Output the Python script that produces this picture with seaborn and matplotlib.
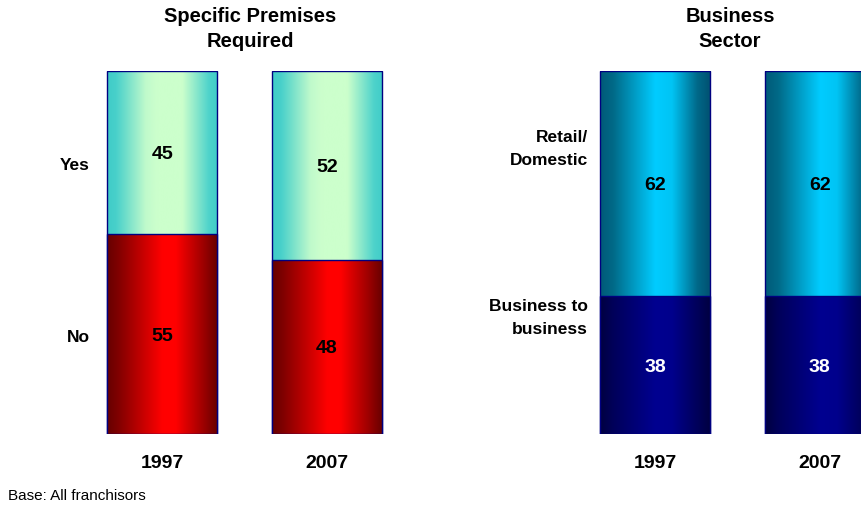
import numpy as np
import matplotlib
matplotlib.use("Agg")
import matplotlib.pyplot as plt
import pandas as pd
import seaborn as sns
from matplotlib.colors import LinearSegmentedColormap
from matplotlib.transforms import blended_transform_factory

# Survey shares (%), by year
years = ["1997", "2007"]
premises_yes = [45, 52]
premises_no = [55, 48]
sector_retail = [62, 62]
sector_b2b = [38, 38]

sns.set_theme(style="white")
plt.rcParams["font.family"] = ["Liberation Sans", "DejaVu Sans"]

NAVY = "#000080"

cm_aqua = LinearSegmentedColormap.from_list(
    "aqua", [(0, "#40CCC8"), (0.08, "#48D0CA"), (0.35, "#C0FACC"),
             (0.45, "#CCFFCC"), (0.68, "#CCFFCC"), (0.92, "#4ED3CB"),
             (1, "#40CCC8")])
cm_red = LinearSegmentedColormap.from_list(
    "red", [(0, "#660000"), (0.1, "#800000"), (0.5, "#FF0000"),
            (0.62, "#FF0000"), (0.88, "#990000"), (1, "#660000")])
cm_sky = LinearSegmentedColormap.from_list(
    "sky", [(0, "#005A78"), (0.12, "#006A88"), (0.5, "#00CCFF"),
            (0.65, "#00C4F4"), (0.88, "#006888"), (1, "#005070")])
cm_navy = LinearSegmentedColormap.from_list(
    "navy", [(0, "#000040"), (0.12, "#00005A"), (0.5, "#000090"),
             (0.65, "#00008C"), (0.88, "#00005A"), (1, "#000040")])

BAR_W = 0.669


def shade(ax, patches, cmap, z):
    """Fill each bar with a horizontal cylinder-style gradient."""
    grad = np.linspace(0, 1, 256).reshape(1, -1)
    for p in patches:
        x0, y0 = p.get_x(), p.get_y()
        w, h = p.get_width(), p.get_height()
        im = ax.imshow(grad, cmap=cmap, aspect="auto", interpolation="bicubic",
                       extent=[x0, x0 + w, y0, y0 + h], zorder=z)
        im.set_clip_path(p)
        p.set_facecolor("none")
        p.set_edgecolor(NAVY)
        p.set_linewidth(1.0)
        p.set_zorder(z + 0.5)


def stacked(ax, bottom, top, cm_bottom, cm_top, col_bottom, col_top):
    df = pd.DataFrame({"year": years,
                       "total": np.add(bottom, top),
                       "bottom": bottom})
    sns.barplot(data=df, x="year", y="total", color="white", width=BAR_W,
                ax=ax, saturation=1)
    sns.barplot(data=df, x="year", y="bottom", color="white", width=BAR_W,
                ax=ax, saturation=1)
    shade(ax, ax.patches[:2], cm_top, 1)
    shade(ax, ax.patches[2:4], cm_bottom, 2)
    for i, (b, t) in enumerate(zip(bottom, top)):
        ax.text(i, b + t / 2, f"{t}", ha="center", va="center_baseline",
                fontsize=14, fontweight="bold", color=col_top, zorder=5)
        ax.text(i, b / 2, f"{b}", ha="center", va="center_baseline",
                fontsize=14, fontweight="bold", color=col_bottom, zorder=5)
    tr = blended_transform_factory(ax.transData, ax.transAxes)
    for i, y in enumerate(years):
        ax.text(i, -0.082, y, transform=tr, ha="center", va="center",
                fontsize=14, fontweight="bold", color="black")
    ax.set_xlim(-0.5, 1.5)
    ax.set_ylim(0, 100)
    ax.set_axis_off()


fig = plt.figure(figsize=(8.62, 5.08), dpi=100)
ax1 = fig.add_axes([80 / 862, 74 / 508, 329 / 862, 363 / 508])
ax2 = fig.add_axes([573 / 862, 74 / 508, 329 / 862, 363 / 508])

stacked(ax1, premises_no, premises_yes, cm_red, cm_aqua, "black", "black")
stacked(ax2, sector_b2b, sector_retail, cm_navy, cm_sky, "white", "black")

lab = dict(ha="right", va="center", fontsize=12.5, fontweight="bold",
           color="black", linespacing=1.65)
fig.text(90 / 862, 1 - 165 / 508, "Yes", **lab)
fig.text(90 / 862, 1 - 337 / 508, "No", **lab)
fig.text(588 / 862, 1 - 149 / 508, "Retail/\nDomestic", **lab)
fig.text(588 / 862, 1 - 318 / 508, "Business to\nbusiness", **lab)

ttl = dict(ha="center", va="center", fontsize=14.5, fontweight="bold",
           color="black", linespacing=1.45)
fig.text(250 / 862, 1 - 29 / 508, "Specific Premises\nRequired", **ttl)
fig.text(730 / 862, 1 - 29 / 508, "Business\nSector", **ttl)

fig.text(8 / 862, 1 - 496 / 508, "Base: All franchisors", ha="left",
         va="center", fontsize=11, color="black")

fig.savefig("out.png", dpi=100, facecolor="white")
